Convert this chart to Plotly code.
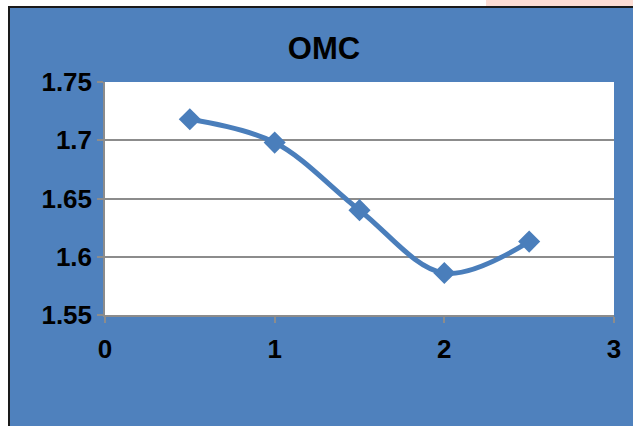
import plotly.graph_objects as go

x_vals = [0.5, 1.0, 1.5, 2.0, 2.5]
omc_vals = [1.718, 1.698, 1.640, 1.586, 1.613]
x_ticks = [0, 1, 2, 3]
y_ticks = [1.55, 1.6, 1.65, 1.7, 1.75]
y_tick_text = ["1.55", "1.6", "1.65", "1.7", "1.75"]
title_text = "OMC"

W, H = 633, 426
L, R, T, B = 105, 19, 82, 111
pw, ph = W - L - R, H - T - B

def px_x(p):
    return (p - L) / pw

def px_y(p):
    return (H - B - p) / ph

fig = go.Figure()
fig.add_trace(go.Scatter(
    x=x_vals, y=omc_vals, mode="lines+markers",
    line=dict(color="#4A7EBB", width=5, shape="spline", smoothing=1),
    marker=dict(symbol="diamond", size=17, color="#4A7EBB"),
    showlegend=False,
))

font = "Liberation Sans, Arial, sans-serif"
fig.update_layout(
    width=W, height=H,
    margin=dict(l=L, r=R, t=T, b=B, pad=0),
    paper_bgcolor="#4F81BD",
    plot_bgcolor="white",
    title=dict(text="<b>%s</b>" % title_text, x=px_x(324), xref="paper", xanchor="center",
               y=1 - 48 / H, yref="container", yanchor="middle",
               font=dict(family=font, size=31, color="black")),
    xaxis=dict(range=[0, 3], tickvals=x_ticks, ticktext=["<b>%d</b>" % v for v in x_ticks],
               ticks="outside", ticklen=6, tickwidth=1.5, ticklabelstandoff=4,
               tickcolor="#8C8C8C", showline=True, linecolor="#8C8C8C", linewidth=1.5,
               showgrid=False, zeroline=False,
               tickfont=dict(family=font, size=26, color="black")),
    yaxis=dict(range=[1.55, 1.75], tickvals=y_ticks, ticktext=["<b>%s</b>" % t for t in y_tick_text],
               ticks="outside", ticklen=6, tickwidth=1.5,
               tickcolor="#8C8C8C", showline=True, linecolor="#8C8C8C", linewidth=1.5,
               showgrid=True, gridcolor="#8C8C8C", gridwidth=1.5, zeroline=False,
               tickfont=dict(family=font, size=26, color="black")),
    shapes=[
        dict(type="rect", xref="paper", yref="paper", x0=px_x(-5), x1=px_x(W + 5),
             y0=px_y(7), y1=px_y(-5), fillcolor="white", line_width=0, layer="below"),
        dict(type="rect", xref="paper", yref="paper", x0=px_x(-5), x1=px_x(8),
             y0=px_y(H + 5), y1=px_y(-5), fillcolor="white", line_width=0, layer="below"),
        dict(type="rect", xref="paper", yref="paper", x0=px_x(486), x1=px_x(W + 5),
             y0=px_y(6), y1=px_y(-5), fillcolor="#FCDDD5", line_width=0, layer="below"),
        dict(type="line", xref="paper", yref="paper", x0=px_x(8), x1=px_x(W + 5),
             y0=px_y(7), y1=px_y(7), line=dict(color="#1a1a1a", width=2)),
        dict(type="line", xref="paper", yref="paper", x0=px_x(9), x1=px_x(9),
             y0=px_y(6), y1=px_y(H + 5), line=dict(color="#1a1a1a", width=2)),
    ],
)
fig.write_html("out.html", config={"displayModeBar": False},
               post_script="document.body.style.margin='0';document.body.style.overflow='hidden';")
